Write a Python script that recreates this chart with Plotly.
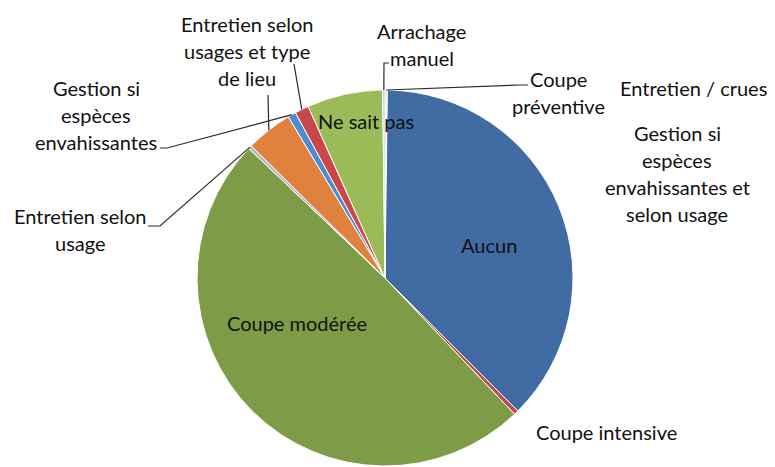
import math
import plotly.graph_objects as go

# ---- data (clockwise from 12 o'clock) ----
categories = [
    "Coupe préventive",
    "Entretien / crues",
    "Gestion si espèces envahissantes et selon usage",
    "Aucun",
    "Coupe intensive",
    "Coupe modérée",
    "Entretien selon usage",
    "Entretien selon usages et type de lieu",
    "Gestion si espèces envahissantes",
    "Entretien selon usages et type de lieu (2)",
    "Ne sait pas",
    "Arrachage manuel",
]
values = [0.2, 0.0, 0.0, 37.3, 0.4, 49.2, 0.3, 4.0, 0.7, 1.2, 6.5, 0.2]
colors = ["#E6C196", "#C9D6E6", "#D9D9D9", "#416BA3", "#C0504D", "#7E9B47",
          "#AEB9C6", "#E0823D", "#4F8BD0", "#C9474B", "#9BBB59", "#B9CADF"]

# ---- layout constants (pixels, in window coordinates) ----
OFF = 8                      # browser body margin
W, H = 775 - OFF, 467 - OFF  # figure size
CX, CY, R = 385, 278, 188
FONT = "Lato, Arial, sans-serif"
FS = 20
LINE = 27

def px(x):
    return (x - OFF) / W

def py(y):
    return 1 - (y - OFF) / H

fig = go.Figure(go.Pie(
    labels=categories,
    values=values,
    sort=False,
    direction="clockwise",
    rotation=0,
    textinfo="none",
    hoverinfo="label+value",
    marker=dict(colors=colors, line=dict(color="white", width=1)),
    domain=dict(x=[px(CX - R), px(CX + R)], y=[py(CY + R), py(CY - R)]),
    showlegend=False,
))

# anchor point on the rim at each slice's mid-angle (derived from data)
total = sum(values)
anchors = {}
cum = 0.0
for c, v in zip(categories, values):
    mid = (cum + v / 2) / total * 2 * math.pi
    anchors[c] = (CX + R * math.sin(mid), CY - R * math.cos(mid))
    cum += v

# text labels: (lines, centre x, first line centre y)
labels_text = [
    (["Aucun"], 489, 245),
    (["Coupe modérée"], 297, 323),
    (["Ne sait pas"], 366, 121),
    (["Coupe intensive"], 606, 432),
    (["Entretien selon", "usages et type", "de lieu"], 247, 24),
    (["Gestion si", "espèces", "envahissantes"], 96, 88),
    (["Entretien selon", "usage"], 80, 216),
    (["Arrachage", "manuel"], 422, 31),
    (["Coupe", "préventive"], 558, 79),
    (["Entretien / crues"], 693, 88),
    (["Gestion si", "espèces", "envahissantes et", "selon usage"], 677, 133),
]
annotations = []
for lines, x, y0 in labels_text:
    for i, t in enumerate(lines):
        annotations.append(dict(
            text=t, x=px(x), y=py(y0 + i * LINE), xref="paper", yref="paper",
            xanchor="center", yanchor="middle", showarrow=False,
            font=dict(family=FONT, size=FS, color="#111111"),
        ))

# leader lines: label-side points (pixels) then the slice anchor
leaders = [
    ("Entretien selon usage", [(148, 226), (160, 226)]),
    ("Gestion si espèces envahissantes", [(160, 148), (167, 148)]),
    ("Entretien selon usages et type de lieu", [(268, 95)]),
    ("Entretien selon usages et type de lieu (2)", [(294, 64)]),
    ("Arrachage manuel", [(389, 63), (384, 63)]),
    ("Coupe préventive", [(528, 85), (520, 85)]),
]
shapes = []
for cat, pts in leaders:
    ax, ay = anchors[cat]
    allp = pts + [(ax, ay)]
    path = "M " + " L ".join(f"{px(x):.5f},{py(y):.5f}" for x, y in allp)
    shapes.append(dict(type="path", path=path, xref="paper", yref="paper",
                       line=dict(color="#2A2A2A", width=1.2)))

fig.update_layout(
    width=W, height=H,
    margin=dict(l=0, r=0, t=0, b=0),
    paper_bgcolor="white",
    plot_bgcolor="white",
    annotations=annotations,
    shapes=shapes,
)

fig.write_html("out.html")
